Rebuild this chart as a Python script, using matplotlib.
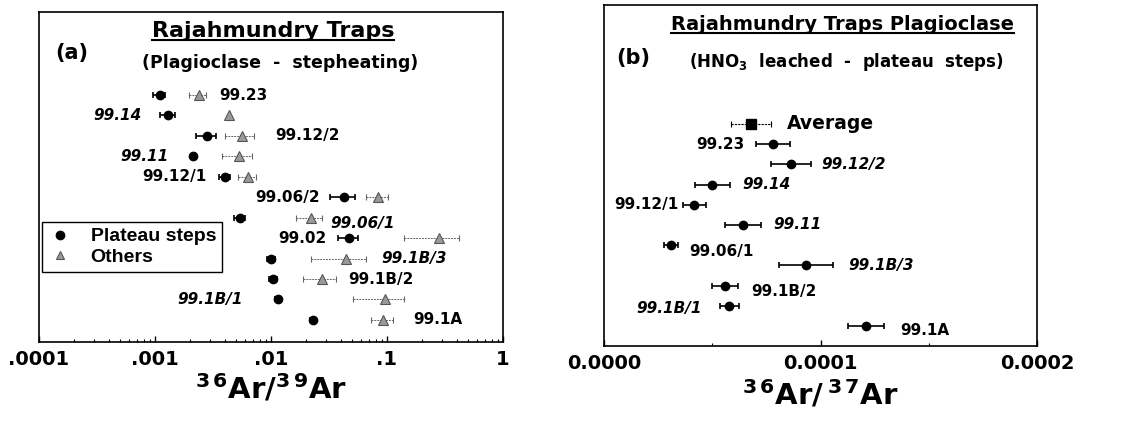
import numpy as np
import matplotlib
matplotlib.use("Agg")
import matplotlib.pyplot as plt
from matplotlib.lines import Line2D

plt.rcParams['font.family'] = ['DejaVu Sans']
plt.rcParams['mathtext.fontset'] = 'dejavusans'

# ---- panel (a) data: 36Ar/39Ar, plateau steps vs others
samples_a = ['99.23', '99.14', '99.12/2', '99.11', '99.12/1', '99.06/2',
             '99.06/1', '99.02', '99.1B/3', '99.1B/2', '99.1B/1', '99.1A']
plateau_a = [0.0011, 0.0013, 0.0028, 0.00213, 0.0040, 0.0426,
             0.0054, 0.047, 0.0100, 0.0104, 0.0115, 0.023]
plateau_err_a = [0.00013, 0.0002, 0.00055, 0.0001, 0.00045, 0.0103,
                 0.0006, 0.0089, 0.0008, 0.0008, 0.0006, 0.0012]
others_a = [0.00238, 0.00435, 0.0056, 0.0053, 0.0063, 0.084,
            0.022, 0.28, 0.044, 0.0275, 0.096, 0.093]
others_err_a = [0.0004, 0.0, 0.0016, 0.0015, 0.00115, 0.018,
                0.0056, 0.14, 0.022, 0.0087, 0.045, 0.02]
ticks_a = [0.0001, 0.001, 0.01, 0.1, 1]
ticklabels_a = ['.0001', '.001', '.01', '.1', '1']

# ---- panel (b) data: 36Ar/37Ar, HNO3 leached plateau steps
samples_b = ['99.23', '99.12/2', '99.14', '99.12/1', '99.11', '99.06/1',
             '99.1B/3', '99.1B/2', '99.1B/1', '99.1A']
ratio_b = [7.79e-5, 8.62e-5, 5.0e-5, 4.17e-5, 6.4e-5, 3.09e-5,
           9.33e-5, 5.59e-5, 5.79e-5, 1.209e-4]
ratio_err_b = [7.9e-6, 9.2e-6, 8.2e-6, 5.2e-6, 8.3e-6, 3.1e-6,
               1.23e-5, 6.2e-6, 4.3e-6, 8.3e-6]
average_b = 6.78e-5
average_err_b = 9.2e-6
ticks_b = [0.0, 0.0001, 0.0002]
ticklabels_b = ['0.0000', '0.0001', '0.0002']

# label placement (x anchor, alignment, italic?, vertical nudge)
lab_a = [(0.00355, 'left', False, 0), (0.00077, 'right', True, 0),
         (0.0108, 'left', False, 0), (0.0013, 'right', True, 0),
         (0.0028, 'right', False, 0), (0.0265, 'right', False, 0),
         (0.0323, 'left', True, 0.3), (0.0304, 'right', False, 0),
         (0.0888, 'left', True, 0), (0.0461, 'left', False, 0),
         (0.00574, 'right', True, 0), (0.1675, 'left', False, 0)]
lab_b = [(6.51e-5, 'right', False, 0), (1.002e-4, 'left', True, 0),
         (6.37e-5, 'left', True, 0), (3.42e-5, 'right', False, 0),
         (7.81e-5, 'left', True, 0), (3.93e-5, 'left', False, 0.3),
         (1.127e-4, 'left', True, 0), (6.79e-5, 'left', False, 0.27),
         (4.51e-5, 'right', True, 0.15), (1.370e-4, 'left', False, 0.2)]

fig = plt.figure(figsize=(11.33, 4.26), dpi=100)
ax1 = fig.add_axes([0.0344, 0.1972, 0.4095, 0.7746])
ax2 = fig.add_axes([0.5331, 0.1878, 0.3822, 0.8005])

# ---------------- panel (a)
rows_a = np.arange(len(samples_a))
e1 = ax1.errorbar(others_a, rows_a, xerr=others_err_a, fmt='^', ms=6.5,
                  mfc='#9a9a9a', mec='#555555', mew=0.8, ecolor='#666666',
                  elinewidth=0.7, capsize=2.5, capthick=0.7, zorder=3)
e1[2][0].set_linestyle((0, (2, 1)))
ax1.errorbar(plateau_a, rows_a, xerr=plateau_err_a, fmt='o', ms=6,
             color='black', elinewidth=1.2, capsize=2.5, capthick=1.2, zorder=4)
for i, (name, (lx, ha, ital, dy)) in enumerate(zip(samples_a, lab_a)):
    ax1.text(lx, i + dy, name, ha=ha, va='center', fontsize=11, fontweight='bold',
             fontstyle='italic' if ital else 'normal')

ax1.set_xscale('log')
ax1.set_xlim(1e-4, 1)
ax1.set_ylim(12.08, -4.06)
ax1.set_xticks(ticks_a)
ax1.set_xticklabels(ticklabels_a)
ax1.set_yticks([])

handles = [Line2D([], [], ls='none', marker='o', ms=6, color='black'),
           Line2D([], [], ls='none', marker='^', ms=5.5, mfc='#9a9a9a', mec='#555555', mew=0.8)]
leg = ax1.legend(handles, ['Plateau steps', 'Others'], loc='upper left',
                 bbox_to_anchor=(0.0065, 0.364), borderaxespad=0, fancybox=False,
                 framealpha=1, edgecolor='black',
                 prop={'family': 'Liberation Sans', 'weight': 'bold', 'size': 14},
                 handletextpad=0.9, handlelength=1.3, borderpad=0.3, labelspacing=0.15)
leg.get_frame().set_linewidth(1.0)

t1 = ax1.text(0.504, 0.925, 'Rajahmundry Traps', transform=ax1.transAxes,
              ha='center', va='baseline', fontsize=16, fontweight='bold')
ax1.text(0.52, 0.845, '(Plagioclase  -  stepheating)', transform=ax1.transAxes,
         ha='center', va='center', fontsize=12.5, fontweight='bold')
ax1.text(0.071, 0.876, '(a)', transform=ax1.transAxes,
         ha='center', va='center', fontsize=15, fontweight='bold')
ax1.set_xlabel(r'$^{\mathbf{3\,6}}\mathbf{Ar/}^{\mathbf{3\,9}}\mathbf{Ar}$',
               fontsize=21, labelpad=2)

# ---------------- panel (b)
rows_b = np.arange(1, len(samples_b) + 1)
ea = ax2.errorbar([average_b], [0], xerr=[average_err_b], fmt='s', ms=7,
                  color='black', elinewidth=0.8, capsize=2.5, capthick=0.8, zorder=4)
ea[2][0].set_linestyle((0, (2, 1)))
ax2.errorbar(ratio_b, rows_b, xerr=ratio_err_b, fmt='o', ms=6, color='black',
             elinewidth=1.2, capsize=2.5, capthick=1.2, zorder=4)
ax2.text(8.45e-5, 0, 'Average', ha='left', va='center', fontsize=13.5, fontweight='bold')
for r, name, (lx, ha, ital, dy) in zip(rows_b, samples_b, lab_b):
    ax2.text(lx, r + dy, name, ha=ha, va='center', fontsize=11, fontweight='bold',
             fontstyle='italic' if ital else 'normal')

ax2.set_xlim(0, 0.0002)
ax2.set_ylim(10.99, -5.89)
ax2.set_xticks(ticks_b)
ax2.set_xticklabels(ticklabels_b)
ax2.set_xticks([0.00005, 0.00015], minor=True)
ax2.set_yticks([])

t2 = ax2.text(0.55, 0.928, 'Rajahmundry Traps Plagioclase', transform=ax2.transAxes,
              ha='center', va='baseline', fontsize=14, fontweight='bold')
ax2.text(0.559, 0.833, r'(HNO$_{\mathbf{3}}$  leached  -  plateau  steps)',
         transform=ax2.transAxes, ha='center', va='center', fontsize=12, fontweight='bold')
ax2.text(0.067, 0.845, '(b)', transform=ax2.transAxes,
         ha='center', va='center', fontsize=15, fontweight='bold')
ax2.set_xlabel(r'$^{\mathbf{3\,6}}\mathbf{Ar/\,}^{\mathbf{3\,7}}\mathbf{Ar}$',
               fontsize=21, labelpad=4)

for ax in (ax1, ax2):
    ax.tick_params(axis='x', which='major', direction='in', length=4, width=1,
                   labelsize=14, pad=6)
    ax.tick_params(axis='x', which='minor', direction='in', length=2.5, width=0.8)
    for lbl in ax.get_xticklabels():
        lbl.set_fontweight('bold')
    for sp in ax.spines.values():
        sp.set_linewidth(1.2)

# underline the two headings
fig.canvas.draw()
r = fig.canvas.get_renderer()
for t, ax in ((t1, ax1), (t2, ax2)):
    bb = t.get_window_extent(renderer=r)
    base = ax.transAxes.transform(t.get_position())[1] - 3
    x0, x1 = bb.x0 / fig.bbox.width, bb.x1 / fig.bbox.width
    yy = base / fig.bbox.height
    fig.add_artist(Line2D([x0, x1], [yy, yy], color='black', lw=1.5))

fig.savefig('out.png', dpi=100)
